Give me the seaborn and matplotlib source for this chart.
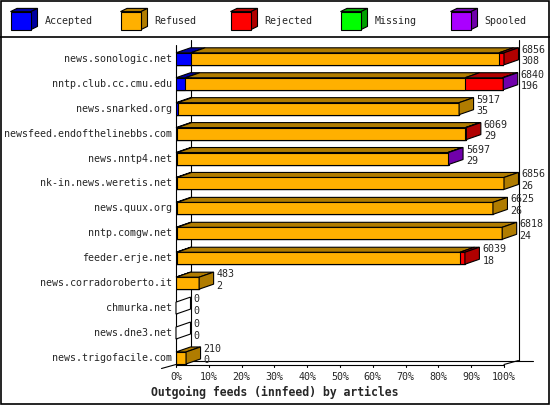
import numpy as np
import pandas as pd
import matplotlib
matplotlib.use("Agg")
import matplotlib.pyplot as plt
import seaborn as sns
from matplotlib.patches import Polygon, Rectangle

# data
hosts = ["news.sonologic.net", "nntp.club.cc.cmu.edu", "news.snarked.org",
         "newsfeed.endofthelinebbs.com", "news.nntp4.net", "nk-in.news.weretis.net",
         "news.quux.org", "nntp.comgw.net", "feeder.erje.net", "news.corradoroberto.it",
         "chmurka.net", "news.dne3.net", "news.trigofacile.com"]
offered = [6856, 6840, 5917, 6069, 5697, 6856, 6625, 6818, 6039, 483, 0, 0, 210]
accepted = [308, 196, 35, 29, 29, 26, 26, 24, 18, 2, 0, 0, 0]
refused = [6443, 5847, 5882, 6020, 5653, 6830, 6599, 6794, 5916, 481, 0, 0, 210]
rejected = [105, 782, 0, 20, 0, 0, 0, 0, 105, 0, 0, 0, 0]
missing = [0, 0, 0, 0, 0, 0, 0, 0, 0, 0, 0, 0, 0]
spooled = [0, 15, 0, 0, 15, 0, 0, 0, 0, 0, 0, 0, 0]
series = ["Accepted", "Refused", "Rejected", "Missing", "Spooled"]
ticks = list(range(0, 101, 10))
title = "Outgoing feeds (innfeed) by articles"

front_col = ["#0000ff", "#ffb000", "#ff0000", "#00ff00", "#aa00ff"]
dark_col = ["#0000a0", "#b07c00", "#b00000", "#00a000", "#7000aa"]

# pixel layout
W, H = 550, 405
X0, X1 = 176, 504
ROW0, STEP = 58.8, 24.93
BAR_PX = 12
DX, DY = 14.5, 5      # bar depth
FDY = 4               # floor depth
FRONT_TOP, FLOOR, BACK_TOP = 45, 364.5, 40
LW = 0.8
FONT = "DejaVu Sans Mono"
FS = 7.2

sns.set_style("white")
plt.rcParams["font.family"] = [FONT]

df = pd.DataFrame({"host": hosts, "Accepted": accepted, "Refused": refused,
                   "Rejected": rejected, "Missing": missing, "Spooled": spooled})
scale = 100.0 / max(offered)
pct = df[series].mul(scale)
cum = pct.cumsum(axis=1)

fig = plt.figure(figsize=(W / 100, H / 100), dpi=100)

# decoration layer in pixel coordinates
lax = fig.add_axes([0, 0, 1, 1])
lax.set_xlim(0, W)
lax.set_ylim(H, 0)
lax.axis("off")
lax.add_patch(Rectangle((0.5, 0.5), W - 1.5, H - 1.5, fill=False, lw=1.2, ec="black"))
lax.plot([0, W], [36.5, 36.5], color="black", lw=1.2)
for i, name in enumerate(series):
    lx, ly, lw_, lh, d1, d2 = 10.5 + i * 110, 11.6, 20.5, 18, 6.5, 3.2
    lax.add_patch(Polygon([(lx, ly), (lx + lw_, ly), (lx + lw_ + d1, ly - d2), (lx + d1, ly - d2)],
                          fc=dark_col[i], ec="black", lw=LW))
    lax.add_patch(Polygon([(lx + lw_, ly), (lx + lw_ + d1, ly - d2), (lx + lw_ + d1, ly + lh - d2),
                           (lx + lw_, ly + lh)], fc=dark_col[i], ec="black", lw=LW))
    lax.add_patch(Rectangle((lx, ly), lw_, lh, fc=front_col[i], ec="black", lw=LW))
    lax.text(lx + 34, ly + lh / 2, name, fontsize=FS, va="center", ha="left")
lax.text(W / 2, 392, title, fontsize=8.3, fontweight="bold", ha="center", va="center")

# chart axes: x in percent, y in rows
ax = fig.add_axes([X0 / W, 1 - FLOOR / H, (X1 - X0) / W, (FLOOR - FRONT_TOP) / H])
bh = BAR_PX / STEP
for k in range(len(series) - 1, -1, -1):
    sns.barplot(x=cum[series[k]].values, y=np.arange(len(hosts)), orient="h",
                color=front_col[k], saturation=1, width=bh, edgecolor="black",
                linewidth=LW, ax=ax, native_scale=True, zorder=3)
ybot = (FLOOR - ROW0) / STEP
ytop = (FRONT_TOP - ROW0) / STEP
ax.set_xlim(0, 100)
ax.set_ylim(ybot, ytop)
ax.axis("off")

px_x = 100 / (X1 - X0)
dxd = DX * px_x
dyd = DY / STEP
fdy = FDY / STEP
yback_floor = ybot - fdy
yback_top = (BACK_TOP - ROW0) / STEP

line = dict(color="black", lw=LW, clip_on=False, zorder=1)
ax.plot([dxd, dxd], [yback_floor, yback_top], **line)
ax.plot([100 + dxd, 100 + dxd], [yback_floor, yback_top], **line)
ax.plot([dxd, 100 + 2 * dxd], [yback_floor, yback_floor], **line)
ax.plot([0, 0], [ytop, ybot], **line)
ax.plot([0, 100], [ybot, ybot], **line)
ax.plot([100, 100 + dxd], [ybot, yback_floor], **line)
ax.plot([-dxd, 0], [ybot + fdy, ybot], **line)
for t in ticks:
    ax.plot([t, t], [ybot, ybot + 3 / STEP], **line)
    ax.text(t, ybot + 12.2 / STEP, f"{t}%", fontsize=FS, ha="center", va="center")

for r, host in enumerate(hosts):
    yt, yb = r - bh / 2, r + bh / 2
    ax.text(-4 * px_x, r, host, fontsize=FS, ha="right", va="center")
    left = 0.0
    last = None
    for k, name in enumerate(series):
        w = pct.loc[r, name]
        if w > 0:
            ax.add_patch(Polygon([(left, yt), (left + w, yt), (left + w + dxd, yt - dyd),
                                  (left + dxd, yt - dyd)], fc=dark_col[k], ec="black",
                                 lw=LW, zorder=4, clip_on=False))
            last = k
        left += w
    end = cum.loc[r, "Spooled"]
    side = dict(fc=dark_col[last], ec="black") if last is not None else dict(fc="white", ec="black")
    ax.add_patch(Polygon([(end, yt), (end + dxd, yt - dyd), (end + dxd, yb - dyd), (end, yb)],
                         lw=LW, zorder=4, clip_on=False, **side))
    tx = end + dxd + 3 * px_x
    ax.text(tx, r - 9 / STEP, str(offered[r]), fontsize=FS, ha="left", va="center")
    ax.text(tx, r + 2.5 / STEP, str(accepted[r]), fontsize=FS, ha="left", va="center")

fig.savefig("out.png", dpi=100)
